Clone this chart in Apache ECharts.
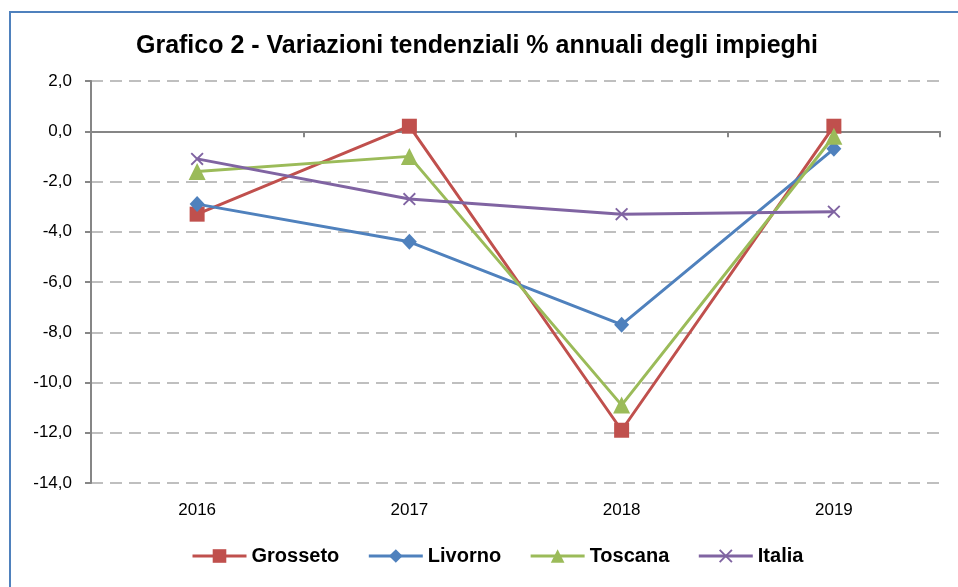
<!DOCTYPE html>
<html>
<head>
<meta charset="utf-8">
<script src="https://cdn.jsdelivr.net/npm/echarts@6/dist/echarts.min.js"></script>
<style>
  html, body { margin: 0; padding: 0; background: #fff; }
  #chart { width: 958px; height: 587px; }
</style>
</head>
<body>
<div id="chart"></div>
<script>
// dati
var anni = ['2016', '2017', '2018', '2019'];
var grosseto = [-3.3, 0.2, -11.9, 0.2];
var livorno = [-2.9, -4.4, -7.7, -0.7];
var toscana = [-1.6, -1.0, -10.9, -0.2];
var italia = [-1.1, -2.7, -3.3, -3.2];

var FONT = "'Liberation Sans', sans-serif";
var crossPath = 'path://M0,1L1,0L5,4L9,0L10,1L6,5L10,9L9,10L5,6L1,10L0,9L4,5Z';

var chart = echarts.init(document.getElementById('chart'));

function serie(name, data, color, symbol, size) {
    return {
        name: name,
        type: 'line',
        data: data,
        color: color,
        symbol: symbol,
        symbolSize: size,
        showAllSymbol: true,
        lineStyle: { width: 3, color: color },
        itemStyle: { color: color },
        z: 3
    };
}

var option = {
    animation: false,
    backgroundColor: '#fff',
    textStyle: { fontFamily: FONT },
    title: {
        text: 'Grafico 2 - Variazioni tendenziali % annuali degli impieghi',
        left: 472,
        textAlign: 'center',
        top: 29,
        textStyle: { fontSize: 25, fontWeight: 'bold', color: '#000', fontFamily: FONT }
    },
    graphic: [{
        type: 'rect',
        shape: { x: 10, y: 12, width: 1000, height: 700 },
        style: { fill: 'none', stroke: '#4F81BD', lineWidth: 2 },
        silent: true
    }],
    legend: {
        top: 541,
        left: 186,
        itemWidth: 54,
        itemHeight: 17,
        itemGap: 28,
        lineStyle: { width: 3 },
        textStyle: { fontSize: 20, fontWeight: 'bold', color: '#000', fontFamily: FONT },
        data: ['Grosseto', 'Livorno', 'Toscana', 'Italia']
    },
    grid: { left: 91, top: 81, right: 18, bottom: 104 },
    xAxis: [{
        type: 'category',
        data: anni,
        boundaryGap: true,
        axisLine: { onZero: true, lineStyle: { color: '#868686', width: 2 } },
        axisTick: { show: true, length: 6, lineStyle: { color: '#868686', width: 2 } },
        axisLabel: { show: false },
        splitLine: { show: false }
    }, {
        type: 'category',
        data: anni,
        position: 'bottom',
        boundaryGap: true,
        axisLine: { show: false, onZero: false },
        axisTick: { show: false },
        axisLabel: { margin: 19, fontSize: 17, color: '#000', fontFamily: FONT },
        splitLine: { show: false }
    }],
    yAxis: {
        type: 'value',
        min: -14,
        max: 2,
        interval: 2,
        axisLine: { show: true, lineStyle: { color: '#868686', width: 2 } },
        axisTick: { show: true, length: 6, lineStyle: { color: '#868686', width: 2 } },
        axisLabel: {
            margin: 19,
            fontSize: 17,
            color: '#000',
            fontFamily: FONT,
            formatter: function (v) { return v.toFixed(1).replace('.', ','); }
        },
        splitLine: { show: true, lineStyle: { color: '#BFBFBF', width: 2, type: [12, 7] } }
    },
    series: [
        serie('Grosseto', grosseto, '#C0504D', 'rect', 15),
        serie('Livorno', livorno, '#4F81BD', 'diamond', [15, 16]),
        serie('Toscana', toscana, '#9BBB59', 'triangle', 17),
        serie('Italia', italia, '#8064A2', crossPath, 13)
    ]
};

chart.setOption(option);
</script>
</body>
</html>
